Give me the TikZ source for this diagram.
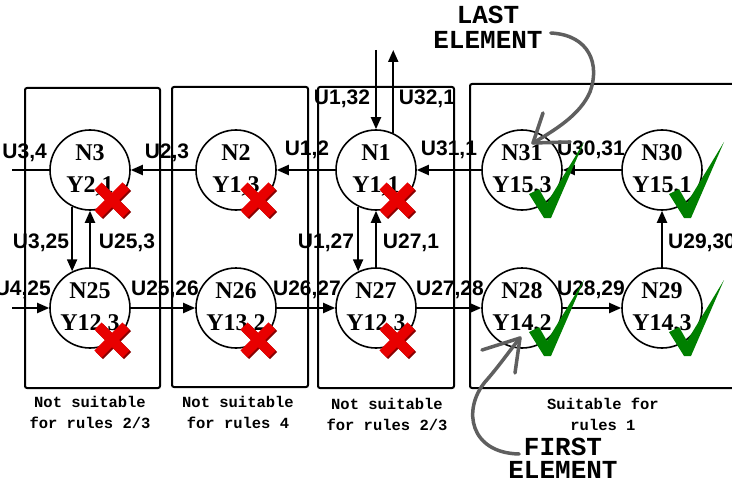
\documentclass[tikz,border=0pt]{standalone}
\usepackage{fontspec}
\setmainfont{Liberation Serif}
\newfontfamily\labelsans{Liberation Sans}
\newfontfamily\labelmono{Liberation Mono}
\usetikzlibrary{arrows.meta, positioning}

\definecolor{crossred}{RGB}{232,0,0}
\definecolor{tickgreen}{RGB}{0,128,0}
\definecolor{notegray}{RGB}{95,95,95}

\tikzset{
  unit/.style={draw, circle, line width=1.6pt, minimum size=80pt, inner sep=0pt,
    align=center, font=\bfseries\fontsize{24}{32}\selectfont},
  frame/.style={draw, line width=2pt, rounded corners=2pt, inner sep=0pt},
  flow/.style={line width=2pt, -{Triangle[length=12pt,width=10pt]}},
  link/.style={line width=2pt},
  lbl/.style={font=\labelsans\bfseries\fontsize{21}{21}\selectfont, inner sep=1pt,
    anchor=base},
  caption/.style={font=\labelmono\bfseries\fontsize{15.5}{21}\selectfont,
    align=center, inner sep=0pt},
  callout/.style={align=center, inner sep=1pt},
  note/.style={draw=notegray, line width=3.5pt, line cap=round, line join=round},
  badmark/.pic={
    \draw[line width=10pt, crossred!60!black, shift={(1.5,1.5)}]
      (-14,-14) -- (14,14) (-14,14) -- (14,-14);
    \draw[line width=10pt, crossred] (-14,-14) -- (14,14) (-14,14) -- (14,-14);
  },
  goodmark/.pic={
    \fill[tickgreen] (7,24) -- (17,19) -- (25,33) -- (62,-28) -- (29,48) -- (22,48) -- cycle;
  }
}

\begin{document}
\begin{tikzpicture}[x=1pt, y=-1pt]
  \fill[white] (0,0) rectangle (732,487);
  \useasboundingbox (0,0) rectangle (732,487);

  % edge labels
  \node[lbl, anchor=base east] (u34) at (48,158) {U3,4};
  \node[lbl] (u23) at (167,158) {U2,3};
  \node[lbl] (u12) at (307,156) {U1,2};
  \node[lbl] (u132) at (342,105) {U1,32};
  \node[lbl] (u321) at (427,105) {U32,1};
  \node[lbl] (u311) at (449,156) {U31,1};
  \node[lbl] (u3031) at (591,156) {U30,31};
  \node[lbl] (u325) at (41,248) {U3,25};
  \node[lbl] (u253) at (127,248) {U25,3};
  \node[lbl] (u127) at (326,248) {U1,27};
  \node[lbl] (u271) at (411,248) {U27,1};
  \node[lbl, anchor=base east] (u425) at (52,295) {U4,25};
  \node[lbl] (u2526) at (165,295) {U25,26};
  \node[lbl] (u2627) at (307,295) {U26,27};
  \node[lbl] (u2728) at (450,295) {U27,28};
  \node[lbl] (u2829) at (591,295) {U28,29};
  \node[lbl, anchor=base west] (u2930) at (667,248) {U29,30};

  % frames round the groups
  \node[frame, minimum width=135pt, minimum height=300pt] (B1) at (92.5,238) {};
  \node[frame, minimum width=136pt, minimum height=300pt] (B2) at (240,237) {};
  \node[frame, minimum width=136pt, minimum height=301pt] (B3) at (386,237.5) {};
  \node[frame, minimum width=275pt, minimum height=304pt] (B4) at (607.5,236) {};

  % units
  \node[unit] (N3) at (90,170) {N3\\Υ2,1};
  \node[unit] (N2) at (236,170) {N2\\Υ1,3};
  \node[unit] (N1) at (376,170) {N1\\Υ1,1};
  \node[unit] (N31) at (522,170) {N31\\Υ15,3};
  \node[unit] (N30) at (662,170) {N30\\Υ15,1};
  \node[unit] (N25) at (90,308) {N25\\Υ12,3};
  \node[unit] (N26) at (236,308) {N26\\Υ13,2};
  \node[unit] (N27) at (376,308) {N27\\Υ12,3};
  \node[unit] (N28) at (522,308) {N28\\Υ14,2};
  \node[unit] (N29) at (662,308) {N29\\Υ14,3};

  \coordinate (w3) at (12,170);
  \coordinate (w25) at (12,308);
  \coordinate (topin) at (376,50);

  % connectors
  \draw[link] (N3.west) -- (w3);
  \draw[flow] (N2.west) -- (N3.east);
  \draw[flow] (N1.west) -- (N2.east);
  \draw[flow] (N31.west) -- (N1.east);
  \draw[flow] (N30.west) -- (N31.east);
  \draw[flow] (w25) -- (N25.west);
  \draw[flow] (N25.east) -- (N26.west);
  \draw[flow] (N26.east) -- (N27.west);
  \draw[flow] (N27.east) -- (N28.west);
  \draw[flow] (N28.east) -- (N29.west);
  \draw[flow] (N29.north) -- (N30.south);
  \draw[flow] (N3.-116) -- (N25.116);
  \draw[flow] (N25.north) -- (N3.south);
  \draw[flow] (N1.-116) -- (N27.116);
  \draw[flow] (N27.north) -- (N1.south);
  \draw[flow] (topin) -- (N1.north);
  \draw[flow] (N1.65) -- (N1.65 |- topin);

  % marks
  \pic at ([shift={(22,30)}]N3.center) {badmark};
  \pic at ([shift={(22,30)}]N2.center) {badmark};
  \pic at ([shift={(21,30)}]N1.center) {badmark};
  \pic at ([shift={(22,32)}]N25.center) {badmark};
  \pic at ([shift={(22,32)}]N26.center) {badmark};
  \pic at ([shift={(21,32)}]N27.center) {badmark};
  \pic at (N31.center) {goodmark};
  \pic at (N30.center) {goodmark};
  \pic at (N28.center) {goodmark};
  \pic at (N29.center) {goodmark};

  % captions
  \node[caption] (c1) at (90,412) {Not suitable\\for rules 2/3};
  \node[caption] (c2) at (238,412) {Not suitable\\for rules 4};
  \node[caption] (c3) at (387,414) {Not suitable\\for rules 2/3};
  \node[caption] (c4) at (603,414) {Suitable for\\rules 1};

  % callouts
  \node[callout, font=\labelmono\bfseries\fontsize{26}{25}\selectfont] (last) at (488,27) {LAST\\ELEMENT};
  \node[callout, font=\labelmono\bfseries\fontsize{26}{23}\selectfont] (first) at (563,458) {FIRST\\ELEMENT};

  \coordinate (lasttip) at (533,143);
  \draw[note] ([shift={(7,6)}]last.east) .. controls (590,35) and (600,65) .. (590,92)
    .. controls (580,115) and (555,130) .. (lasttip);
  \draw[note] ([shift={(10,-30)}]lasttip) -- (lasttip) -- ([shift={(37,-1)}]lasttip);

  \coordinate (firsttip) at (520,338);
  \draw[note] ([shift={(12,-4)}]first.west) .. controls (470,453) and (462,410) .. (485,382)
    .. controls (500,365) and (510,350) .. (firsttip);
  \draw[note] ([shift={(-38,12)}]firsttip) -- (firsttip) -- ([shift={(-5,35)}]firsttip);
\end{tikzpicture}
\end{document}
